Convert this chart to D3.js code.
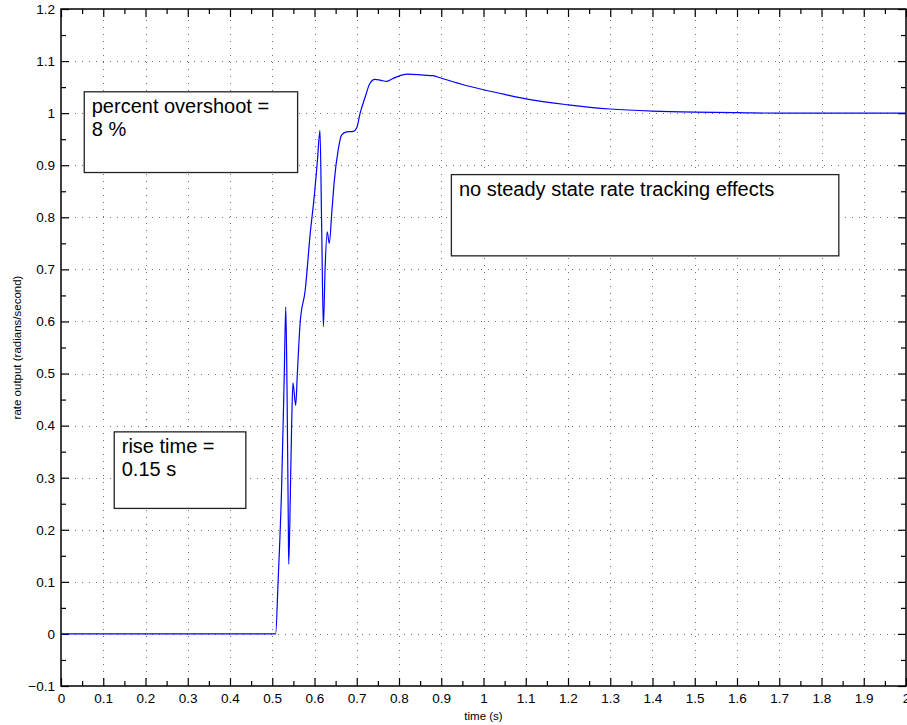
<!DOCTYPE html>
<html>
<head>
<meta charset="utf-8">
<script src="https://cdn.jsdelivr.net/npm/d3@7"></script>
<style>
  html, body { margin: 0; padding: 0; background: #fff; }
  svg { display: block; font-family: "Liberation Sans", Arial, Helvetica, sans-serif; }
</style>
</head>
<body>
<svg id="chart" width="907" height="725"></svg>
<script>
// Step response of the rate loop: time (s) against rate output (rad/s)
const timeS = [0, 0.508, 0.514, 0.522, 0.5285, 0.532, 0.535, 0.538, 0.539, 0.543, 0.546, 0.549,
  0.5555, 0.5594, 0.566, 0.578, 0.59, 0.60, 0.607, 0.613, 0.617, 0.621, 0.625, 0.63, 0.635,
  0.641, 0.647, 0.656, 0.664, 0.676, 0.692, 0.700, 0.708, 0.72, 0.731, 0.743, 0.757, 0.771,
  0.787, 0.806, 0.822, 0.858, 0.881, 0.897, 0.937, 0.95, 1.0, 1.05, 1.11, 1.2, 1.3, 1.4, 1.5,
  1.6, 1.7, 2.0];
const rateOut = [0, 0, 0.104, 0.276, 0.5, 0.628, 0.468, 0.213, 0.134, 0.276, 0.405, 0.482,
  0.439, 0.5, 0.597, 0.66, 0.77, 0.845, 0.91, 0.967, 0.78, 0.59, 0.70, 0.772, 0.75,
  0.81, 0.871, 0.929, 0.958, 0.964, 0.965, 0.972, 1.0, 1.031, 1.057, 1.065, 1.063, 1.061,
  1.067, 1.073, 1.075, 1.073, 1.072, 1.068, 1.058, 1.055, 1.045, 1.036, 1.026, 1.016, 1.008, 1.004, 1.002,
  1.001, 1.0, 1.0];

const xTicks = [0, 0.1, 0.2, 0.3, 0.4, 0.5, 0.6, 0.7, 0.8, 0.9, 1, 1.1, 1.2, 1.3, 1.4, 1.5, 1.6, 1.7, 1.8, 1.9, 2];
const yTicks = [-0.1, 0, 0.1, 0.2, 0.3, 0.4, 0.5, 0.6, 0.7, 0.8, 0.9, 1, 1.1, 1.2];

const notes = [
  { lines: ["percent overshoot =", "8 %"], t0: 0.055, t1: 0.56, v0: 1.041, v1: 0.886 },
  { lines: ["no steady state rate tracking effects"], t0: 0.924, t1: 1.841, v0: 0.882, v1: 0.726 },
  { lines: ["rise time =", "0.15 s"], t0: 0.126, t1: 0.4375, v0: 0.388, v1: 0.241 }
];

const svg = d3.select("#chart");
const L = 61, R = 906, T = 9, B = 686;
const x = d3.scaleLinear().domain([0, 2]).range([L, R]);
const y = d3.scaleLinear().domain([-0.1, 1.2]).range([B, T]);

// dotted grid at the major ticks
const grid = svg.append("g").attr("stroke", "#444").attr("stroke-width", 1)
  .attr("stroke-dasharray", "1 6").attr("opacity", 0.75);
grid.selectAll("line.v").data(xTicks.slice(1, -1)).join("line")
  .attr("x1", d => Math.round(x(d)) + 0.5).attr("x2", d => Math.round(x(d)) + 0.5)
  .attr("y1", B).attr("y2", T);
grid.selectAll("line.h").data(yTicks.slice(1, -1)).join("line")
  .attr("y1", d => Math.round(y(d)) + 0.5).attr("y2", d => Math.round(y(d)) + 0.5)
  .attr("x1", L).attr("x2", R);

// minor tick positions every 0.05
const xMinor = d3.range(0.05, 2, 0.1);
const yMinor = d3.range(-0.05, 1.2, 0.1);

function styleAxis(g) {
  g.select(".domain").remove();
  g.selectAll("line").attr("stroke", "#000").attr("stroke-width", 1.2);
  g.selectAll("text").attr("fill", "#000").attr("font-size", 13.5);
}

// bottom axis with labels, inward ticks
svg.append("g").attr("transform", `translate(0,${B})`)
  .call(d3.axisBottom(x).tickValues(xTicks).tickSize(-8).tickPadding(7)
    .tickFormat(d3.format("~g")))
  .call(styleAxis);
svg.append("g").attr("transform", `translate(0,${B})`)
  .call(d3.axisBottom(x).tickValues(xMinor).tickSize(-5).tickFormat(""))
  .call(styleAxis);
// top mirrored ticks
svg.append("g").attr("transform", `translate(0,${T})`)
  .call(d3.axisTop(x).tickValues(xTicks).tickSize(-8).tickFormat(""))
  .call(styleAxis);
svg.append("g").attr("transform", `translate(0,${T})`)
  .call(d3.axisTop(x).tickValues(xMinor).tickSize(-5).tickFormat(""))
  .call(styleAxis);
// left axis with labels
svg.append("g").attr("transform", `translate(${L},0)`)
  .call(d3.axisLeft(y).tickValues(yTicks).tickSize(-8).tickPadding(6)
    .tickFormat(d3.format("~g")))
  .call(styleAxis);
svg.append("g").attr("transform", `translate(${L},0)`)
  .call(d3.axisLeft(y).tickValues(yMinor).tickSize(-5).tickFormat(""))
  .call(styleAxis);
// right mirrored ticks
svg.append("g").attr("transform", `translate(${R},0)`)
  .call(d3.axisRight(y).tickValues(yTicks).tickSize(-8).tickFormat(""))
  .call(styleAxis);
svg.append("g").attr("transform", `translate(${R},0)`)
  .call(d3.axisRight(y).tickValues(yMinor).tickSize(-5).tickFormat(""))
  .call(styleAxis);

// response curve
const pts = timeS.map((t, i) => [t, rateOut[i]]);
svg.append("path").datum(pts)
  .attr("fill", "none").attr("stroke", "#0000ff").attr("stroke-width", 1.2)
  .attr("d", d3.line().x(d => x(d[0])).y(d => y(d[1])).curve(d3.curveMonotoneX));

// frame
svg.append("rect").attr("x", L).attr("y", T).attr("width", R - L).attr("height", B - T)
  .attr("fill", "none").attr("stroke", "#000").attr("stroke-width", 1.5);

// annotation boxes
notes.forEach(n => {
  const bx = x(n.t0), by = y(n.v0), bw = x(n.t1) - bx, bh = y(n.v1) - by;
  const g = svg.append("g");
  g.append("rect").attr("x", bx).attr("y", by).attr("width", bw).attr("height", bh)
    .attr("fill", "#fff").attr("stroke", "#222").attr("stroke-width", 1.3);
  n.lines.forEach((s, i) => {
    g.append("text").attr("x", bx + 7.5).attr("y", by + 21.5 + i * 23)
      .attr("font-size", 20).attr("fill", "#000").text(s);
  });
});

// axis titles
svg.append("text").attr("x", (L + R) / 2).attr("y", 720).attr("text-anchor", "middle")
  .attr("font-size", 11.5).text("time (s)");
svg.append("text").attr("transform", `translate(21,${(T + B) / 2}) rotate(-90)`)
  .attr("text-anchor", "middle").attr("font-size", 11.5).text("rate output (radians/second)");
</script>
</body>
</html>
